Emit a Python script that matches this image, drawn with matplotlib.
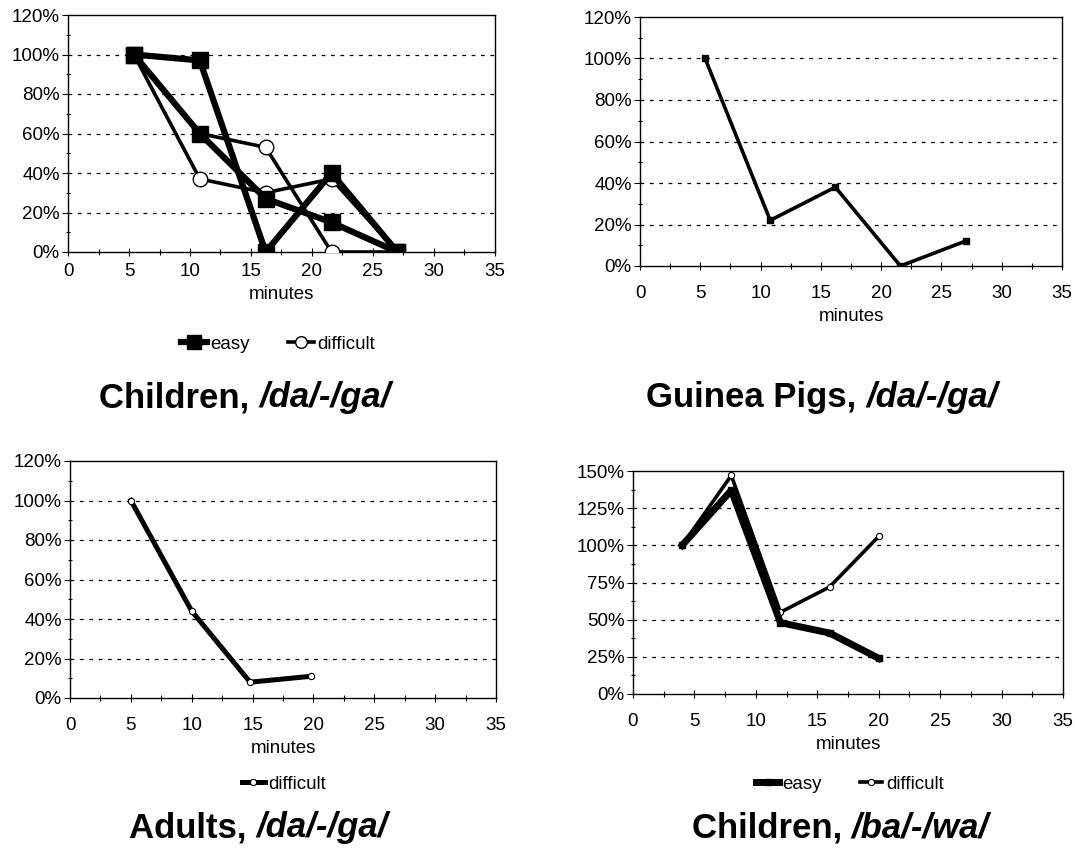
import matplotlib
matplotlib.use("Agg")
import matplotlib.pyplot as plt
from matplotlib.ticker import MultipleLocator, FuncFormatter

plt.rcParams['font.family'] = ['Liberation Sans', 'DejaVu Sans']

# ---------------- data ----------------
minutes_da_ga = [5.4, 10.8, 16.2, 21.6, 27.0]
children_da_easy_1 = [100, 97, 0, 40, 0]
children_da_easy_2 = [100, 60, 27, 15, 0]
children_da_diff_1 = [100, 37, 30, 37, 0]
children_da_diff_2 = [100, 60, 53, 0, 0]

guinea_minutes = [5.4, 10.8, 16.2, 21.6, 27.0]
guinea_values = [100, 22, 38, 0, 12]

adult_minutes = [5, 10, 14.8, 19.8]
adult_difficult = [100, 44, 8, 11]

ba_minutes = [4, 8, 12, 16, 20]
ba_easy = [100, 137, 48, 41, 24]
ba_difficult = [100, 147, 55, 72, 106]

titles = [("Children, ", "/da/-/ga/"), ("Guinea Pigs, ", "/da/-/ga/"),
          ("Adults, ", "/da/-/ga/"), ("Children, ", "/ba/-/wa/")]

W, H = 1075, 848
fig = plt.figure(figsize=(W / 100, H / 100), dpi=100)
FS = 13.5


def add_axes(left, top, right, bottom):
    return fig.add_axes([left / W, 1 - bottom / H, (right - left) / W, (bottom - top) / H])


def style(ax, ymax, ystep, yminor, xpad):
    ax.set_xlim(0, 35)
    ax.set_ylim(0, ymax)
    ax.xaxis.set_major_locator(MultipleLocator(5))
    ax.xaxis.set_minor_locator(MultipleLocator(2.5))
    ax.yaxis.set_major_locator(MultipleLocator(ystep))
    ax.yaxis.set_minor_locator(MultipleLocator(yminor))
    ax.yaxis.set_major_formatter(FuncFormatter(lambda v, p: f"{v:.0f}%"))
    ax.tick_params(axis='x', which='major', direction='inout', length=6, width=0.8,
                   labelsize=FS, pad=xpad)
    ax.tick_params(axis='x', which='minor', direction='inout', length=4, width=0.8)
    ax.tick_params(axis='y', which='major', direction='out', length=4, width=0.8,
                   labelsize=FS, pad=2)
    ax.tick_params(axis='y', which='minor', direction='inout', length=3, width=0.8)
    for s in ax.spines.values():
        s.set_linewidth(1.0)
        s.set_color('black')
    for v in range(ystep, ymax, ystep):
        ax.axhline(v, color='black', lw=0.9, linestyle=(0, (3, 4.5)), zorder=1)
    ax.set_xlabel("minutes", fontsize=FS, labelpad=4)


# ---- top-left: Children /da/-/ga/ ----
ax1 = add_axes(68, 15, 495, 252)
style(ax1, 120, 20, 10, 5)
ax1.plot(minutes_da_ga, children_da_diff_1, color='black', lw=2.6, marker='o', ms=10.5,
         mfc='white', mec='black', mew=1.0, zorder=3, label='difficult')
ax1.plot(minutes_da_ga, children_da_diff_2, color='black', lw=2.6, marker='o', ms=10.5,
         mfc='white', mec='black', mew=1.0, zorder=3)
ax1.plot(minutes_da_ga, children_da_easy_1, color='black', lw=4.5, marker='s', ms=12,
         zorder=4, label='easy')
ax1.plot(minutes_da_ga, children_da_easy_2, color='black', lw=4.5, marker='s', ms=12,
         zorder=4)
h, l = ax1.get_legend_handles_labels()
fig.legend([h[1], h[0]], [l[1], l[0]], loc='center', bbox_to_anchor=(278 / W, 1 - 344 / H),
           ncol=2, frameon=False, fontsize=FS, handlelength=1.4, handletextpad=0.2,
           columnspacing=2.0, markerscale=0.8)

# ---- top-right: Guinea Pigs ----
ax2 = add_axes(640, 17, 1062, 266)
style(ax2, 120, 20, 10, 11)
ax2.plot(guinea_minutes, guinea_values, color='black', lw=2.6, marker='s', ms=5, zorder=3)

# ---- bottom-left: Adults ----
ax3 = add_axes(70, 461, 496, 698)
style(ax3, 120, 20, 10, 11)
ax3.plot(adult_minutes, adult_difficult, color='black', lw=3.6, marker='o', ms=4.5,
         mfc='white', mec='black', mew=0.8, zorder=3, label='difficult')
fig.legend(loc='center', bbox_to_anchor=(284 / W, 1 - 784 / H), frameon=False,
           fontsize=FS, handlelength=1.2, handletextpad=0.2,
           handles=ax3.get_legend_handles_labels()[0])

# ---- bottom-right: Children /ba/-/wa/ ----
ax4 = add_axes(633, 471, 1063, 694)
style(ax4, 150, 25, 12.5, 11)
ax4.plot(ba_minutes, ba_difficult, color='black', lw=2.6, marker='o', ms=4.5,
         mfc='white', mec='black', mew=0.8, zorder=3, label='difficult')
ax4.plot(ba_minutes, ba_easy, color='black', lw=5, marker='s', ms=4, zorder=4, label='easy')
h, l = ax4.get_legend_handles_labels()
fig.legend([h[1], h[0]], [l[1], l[0]], loc='center', bbox_to_anchor=(850 / W, 1 - 784 / H),
           ncol=2, frameon=False, fontsize=FS, handlelength=1.2, handletextpad=0.2,
           columnspacing=2.0)

# ---- titles (bold, second part italic) ----
title_pos = [(245, 398), (822, 398), (258, 828), (840, 828)]
renderer = fig.canvas.get_renderer()
for (a, b), (cx, cy) in zip(titles, title_pos):
    t1 = fig.text(0, 1 - cy / H, a, fontsize=25, fontweight='bold', ha='left', va='center')
    w1 = t1.get_window_extent(renderer).width
    t2 = fig.text(0, 1 - cy / H, b, fontsize=25, fontweight='bold', style='italic',
                  ha='left', va='center')
    w2 = t2.get_window_extent(renderer).width
    left = cx - (w1 + w2) / 2
    t1.set_x(left / W)
    t2.set_x((left + w1) / W)

fig.savefig("out.png", dpi=100, facecolor='white')
